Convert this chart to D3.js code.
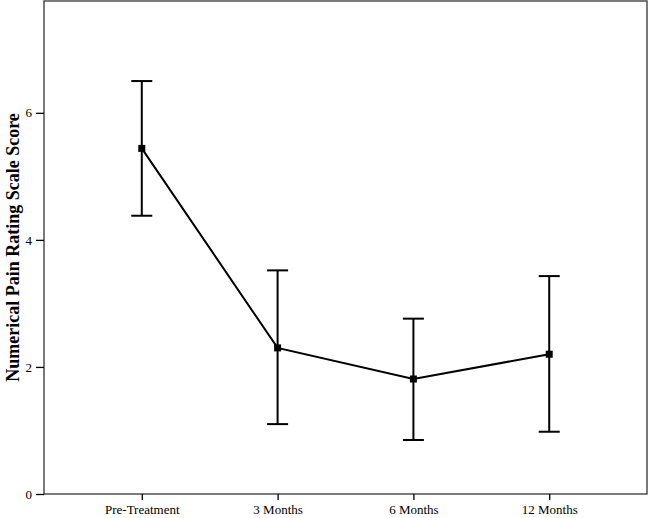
<!DOCTYPE html>
<html>
<head>
<meta charset="utf-8">
<script src="https://cdn.jsdelivr.net/npm/d3@7"></script>
<style>
  body { margin: 0; background: #fff; }
  svg { display: block; }
  .axis text { font-family: "Liberation Serif", "Times New Roman", serif; font-size: 13px; fill: #000; }
  .axis path, .axis line { stroke: #000; stroke-width: 1.3; }
</style>
</head>
<body>
<script>
var categories = ["Pre-Treatment", "3 Months", "6 Months", "12 Months"];
var means = [5.44, 2.30, 1.81, 2.20];
var upper = [6.50, 3.52, 2.76, 3.43];
var lower = [4.38, 1.10, 0.85, 0.98];
var yTicks = [0, 2, 4, 6];

var margin = {top: 1, right: 2, bottom: 24, left: 44},
	width = 649 - margin.left - margin.right,
	height = 518 - margin.top - margin.bottom;

var data = categories.map(function(c, i) {
	return {cat: c, mean: means[i], hi: upper[i], lo: lower[i]};
});

var x = d3.scalePoint()
	.domain(categories)
	.range([0, width])
	.padding(0.72);

var y = d3.scaleLinear()
	.domain([0, 7.76])
	.range([height, 0]);

var svg = d3.select("body").append("svg")
		.attr("width", 649)
		.attr("height", 518)
	.append("g")
		.attr("transform", "translate(" + margin.left + "," + margin.top + ")");

// frame
svg.append("rect")
	.attr("x", 0).attr("y", 0)
	.attr("width", width).attr("height", height)
	.attr("fill", "none")
	.attr("stroke", "#333")
	.attr("stroke-width", 1.3);

svg.append("g")
	.attr("class", "axis")
	.attr("transform", "translate(0," + height + ")")
	.call(d3.axisBottom(x).tickSize(6).tickSizeOuter(0).tickPadding(5))
	.call(g => g.select(".domain").remove());

svg.append("g")
	.attr("class", "axis")
	.call(d3.axisLeft(y).tickValues(yTicks).tickSize(8).tickSizeOuter(0).tickPadding(4))
	.call(g => g.select(".domain").remove());

svg.append("text")
	.attr("transform", "translate(" + (-25) + "," + (height / 2) + ") rotate(-90)")
	.attr("text-anchor", "middle")
	.style("font-family", "'Liberation Serif', 'Times New Roman', serif")
	.style("font-size", "18px")
	.style("font-weight", "bold")
	.text("Numerical Pain Rating Scale Score");

var line = d3.line()
	.x(d => x(d.cat))
	.y(d => y(d.mean));

svg.append("path")
	.datum(data)
	.attr("d", line)
	.attr("fill", "none")
	.attr("stroke", "#000")
	.attr("stroke-width", 2);

var err = svg.selectAll(".err")
	.data(data)
	.enter().append("g")
	.attr("class", "err")
	.attr("stroke", "#000")
	.attr("stroke-width", 2);

err.append("line")
	.attr("x1", d => x(d.cat)).attr("x2", d => x(d.cat))
	.attr("y1", d => y(d.hi)).attr("y2", d => y(d.lo));

err.append("line")
	.attr("x1", d => x(d.cat) - 10.5).attr("x2", d => x(d.cat) + 10.5)
	.attr("y1", d => y(d.hi)).attr("y2", d => y(d.hi));

err.append("line")
	.attr("x1", d => x(d.cat) - 10.5).attr("x2", d => x(d.cat) + 10.5)
	.attr("y1", d => y(d.lo)).attr("y2", d => y(d.lo));

svg.selectAll(".pt")
	.data(data)
	.enter().append("rect")
	.attr("class", "pt")
	.attr("x", d => x(d.cat) - 3.5)
	.attr("y", d => y(d.mean) - 3.5)
	.attr("width", 7)
	.attr("height", 7)
	.attr("fill", "#000");
</script>
</body>
</html>
